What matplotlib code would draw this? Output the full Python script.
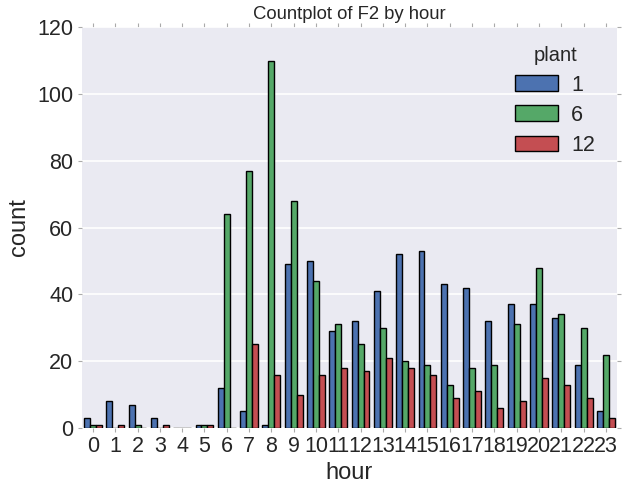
import matplotlib
matplotlib.use("Agg")
import matplotlib.pyplot as plt
import numpy as np

hours = list(range(24))
plants = ["1", "6", "12"]
plant1 = [3, 8, 7, 3, 0, 1, 12, 5, 1, 49, 50, 29, 32, 41, 52, 53, 43, 42, 32, 37, 37, 33, 19, 5]
plant6 = [1, 0, 1, 0, 0, 1, 64, 77, 110, 68, 44, 31, 25, 30, 20, 19, 13, 18, 19, 31, 48, 34, 30, 22]
plant12 = [1, 1, 0, 1, 0, 1, 0, 25, 16, 10, 16, 18, 17, 21, 18, 16, 9, 11, 6, 8, 15, 13, 9, 3]
colors = ["#4C72B0", "#55A868", "#C44E52"]

plt.rcParams['font.family'] = ['Liberation Sans', 'DejaVu Sans']
plt.rcParams['text.color'] = '#262626'
plt.rcParams['axes.labelcolor'] = '#262626'
plt.rcParams['xtick.color'] = '#262626'
plt.rcParams['ytick.color'] = '#262626'

fig = plt.figure(figsize=(6.29, 4.84), dpi=100)
ax = fig.add_axes([0.130, 0.1157, 0.851, 0.8283])
ax.set_facecolor("#EAEAF2")
for s in ax.spines.values():
    s.set_visible(False)
ax.grid(True, axis='y', color='white', linewidth=1.2)
ax.set_axisbelow(True)

x = np.arange(len(hours))
w = 0.8 / 3
series = [plant1, plant6, plant12]
for i, (vals, c, lab) in enumerate(zip(series, colors, plants)):
    ax.bar(x - 0.4 + w * (i + 0.5), vals, width=w, color=c, edgecolor='black',
           linewidth=1.0, label=lab)

ax.set_xlim(-0.5, 23.5)
ax.set_ylim(0, 120)
ax.set_yticks(range(0, 121, 20))
ax.set_xticks(x)
ax.set_xticklabels([str(h) for h in hours])
ax.tick_params(axis='both', labelsize=15.5, length=3, direction='out',
               top=True, right=True, pad=3)
ax.tick_params(axis='both', which='major', color='#AAAAAA', labelcolor='#262626')
ax.set_xlabel("hour", fontsize=17, labelpad=3)
ax.set_ylabel("count", fontsize=17, labelpad=5)
ax.set_title("Countplot of F2 by hour", fontsize=13.3, pad=6)

leg = ax.legend(title="plant", fontsize=15.5, title_fontsize=14.5, frameon=False,
                loc='upper right', bbox_to_anchor=(0.995, 1.0), handlelength=2.0,
                handleheight=0.7, labelspacing=0.42, handletextpad=0.6)

fig.savefig("out.png", dpi=100)
